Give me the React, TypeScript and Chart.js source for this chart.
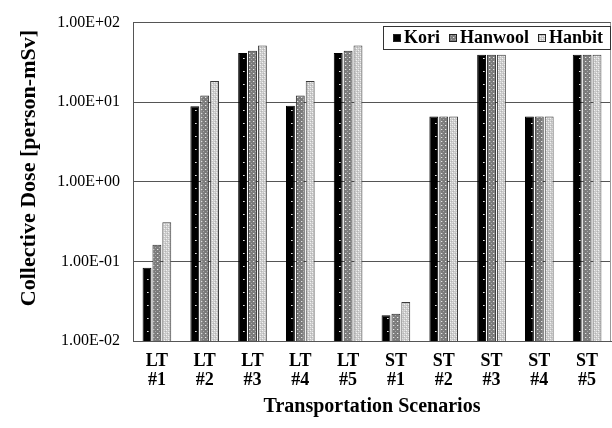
import React, { useEffect, useRef } from "react";
import { Chart, registerables } from "chart.js";

Chart.register(...registerables);

const CATEGORIES: string[][] = [
  ["LT", "#1"], ["LT", "#2"], ["LT", "#3"], ["LT", "#4"], ["LT", "#5"],
  ["ST", "#1"], ["ST", "#2"], ["ST", "#3"], ["ST", "#4"], ["ST", "#5"],
];
const SERIES_NAMES = ["Kori", "Hanwool", "Hanbit"];
const KORI = [0.083, 8.9, 41.5, 9.0, 41.5, 0.021, 6.6, 39.5, 6.6, 39.5];
const HANWOOL = [0.162, 12.1, 44.3, 12.1, 44.3, 0.022, 6.6, 39.5, 6.6, 39.5];
const HANBIT = [0.31, 18.4, 51.5, 18.4, 51.5, 0.031, 6.6, 39.5, 6.6, 39.5];
const Y_TICKS = [0.01, 0.1, 1, 10, 100];
const Y_TICK_LABELS = ["1.00E-02", "1.00E-01", "1.00E+00", "1.00E+01", "1.00E+02"];
const X_TITLE = "Transportation Scenarios";
const Y_TITLE = "Collective Dose [person-mSv]";

const FONT = '"Liberation Serif", "Times New Roman", serif';

function makePattern(w: number, h: number, bg: string, dots: [number, number, string][]) {
  const c = document.createElement("canvas");
  c.width = w;
  c.height = h;
  const g = c.getContext("2d")!;
  g.fillStyle = bg;
  g.fillRect(0, 0, w, h);
  for (const [x, y, col] of dots) {
    g.fillStyle = col;
    g.fillRect(x, y, 1, 1);
  }
  return g.createPattern(c, "repeat")!;
}

const boxLegend = {
  id: "boxLegend",
  afterDraw(chart: any) {
    const ctx = chart.ctx as CanvasRenderingContext2D;
    const area = chart.chartArea;
    ctx.save();
    ctx.font = `bold 18px ${FONT}`;
    const sw = 8, gapText = 3, gapItem = 9, padL = 10, padR = 7;
    const items = chart.data.datasets.map((ds: any) => ({
      label: ds.label,
      fill: ds.backgroundColor,
      w: ctx.measureText(ds.label).width,
    }));
    const contentW =
      items.reduce((s: number, it: any) => s + sw + gapText + it.w, 0) + gapItem * (items.length - 1);
    const boxW = Math.round(padL + contentW + padR);
    const boxH = 23;
    const right = Math.round(area.right - 1);
    const top = Math.round(area.top + 3);
    const left = right - boxW;
    ctx.fillStyle = "#fff";
    ctx.fillRect(left, top, boxW, boxH);
    ctx.strokeStyle = "#333";
    ctx.lineWidth = 1;
    ctx.strokeRect(left + 0.5, top + 0.5, boxW, boxH);
    let x = left + padL;
    const cy = top + boxH / 2;
    items.forEach((it: any) => {
      ctx.fillStyle = it.fill;
      ctx.fillRect(Math.round(x), Math.round(cy - 4), sw, sw);
      ctx.strokeStyle = "#222";
      ctx.strokeRect(Math.round(x) + 0.5, Math.round(cy - 4) + 0.5, sw - 1, sw - 1);
      x += sw + gapText;
      ctx.fillStyle = "#000";
      ctx.textBaseline = "middle";
      ctx.textAlign = "left";
      ctx.fillText(it.label, x, cy + 1);
      x += it.w + gapItem;
    });
    ctx.restore();
  },
};

const rightBorder = {
  id: "rightBorder",
  beforeDatasetsDraw(chart: any) {
    const ctx = chart.ctx as CanvasRenderingContext2D;
    const a = chart.chartArea;
    ctx.save();
    ctx.strokeStyle = "#999";
    ctx.lineWidth = 1;
    ctx.beginPath();
    const x = Math.round(a.right) - 0.5;
    ctx.moveTo(x, a.top);
    ctx.lineTo(x, a.bottom);
    ctx.stroke();
    ctx.restore();
  },
};

export default function App() {
  const ref = useRef<HTMLCanvasElement | null>(null);

  useEffect(() => {
    if (!ref.current) return;
    const koriPat = makePattern(12, 13, "#000000", [[3, 6, "#e8e8e8"], [4, 6, "#999999"]]);
    const hanwoolPat = makePattern(4, 4, "#7c7c7c", [[1, 1, "#e6e6e6"], [3, 3, "#a8a8a8"], [2, 1, "#9a9a9a"]]);
    const hanbitPat = makePattern(4, 4, "#c9c9c9", [
      [0, 0, "#f4f4f4"], [2, 2, "#f4f4f4"], [1, 3, "#b4b4b4"], [3, 1, "#b4b4b4"], [2, 0, "#e0e0e0"], [0, 2, "#e0e0e0"],
    ]);
    const fills = [koriPat, hanwoolPat, hanbitPat];
    const values = [KORI, HANWOOL, HANBIT];
    const borders = ["#000000", "#2a2a2a", "#3a3a3a"];

    const chart = new Chart(ref.current, {
      type: "bar",
      data: {
        labels: CATEGORIES,
        datasets: SERIES_NAMES.map((name, i) => ({
          label: name,
          data: values[i],
          backgroundColor: fills[i] as any,
          borderColor: borders[i],
          borderWidth: 1,
          categoryPercentage: 0.62,
          barPercentage: 0.9,
        })),
      },
      options: {
        responsive: false,
        animation: false,
        layout: { padding: { top: 16, right: 1, left: 0, bottom: 0 } },
        plugins: {
          legend: { display: false },
          tooltip: { enabled: false },
        },
        scales: {
          x: {
            grid: { display: false, drawTicks: false },
            border: { display: true, color: "#555" },
            ticks: {
              font: { family: FONT, size: 18, weight: "bold", lineHeight: 1.1 },
              color: "#000",
              padding: 10,
              maxRotation: 0,
              autoSkip: false,
            },
            title: {
              display: true,
              text: X_TITLE,
              font: { family: FONT, size: 20, weight: "bold" },
              color: "#000",
              padding: { top: 0, bottom: 9 },
            },
            afterFit(s: any) {
              s.height = 87;
            },
          },
          y: {
            type: "logarithmic",
            min: 0.01,
            max: 100,
            afterBuildTicks(s: any) {
              s.ticks = Y_TICKS.map((v) => ({ value: v }));
            },
            ticks: {
              callback: (v: any) => {
                const idx = Y_TICKS.findIndex((t) => Math.abs(Math.log10(t) - Math.log10(Number(v))) < 1e-6);
                return idx >= 0 ? Y_TICK_LABELS[idx] : "";
              },
              font: { family: FONT, size: 16 },
              color: "#000",
              padding: 13,
            },
            grid: { color: "#555", drawTicks: false, lineWidth: 1 },
            border: { display: true, color: "#555" },
            title: {
              display: true,
              text: "\u00A0\u00A0\u00A0\u00A0\u00A0" + Y_TITLE,
              font: { family: FONT, size: 22, weight: "bold" },
              color: "#000",
              padding: { top: 16, bottom: 0 },
            },
            afterFit(s: any) {
              s.width = 133;
            },
          },
        },
      } as any,
      plugins: [rightBorder, boxLegend],
    });
    return () => chart.destroy();
  }, []);

  return (
    <div style={{ position: "absolute", left: 0, top: 0, width: 612, height: 428, background: "#fff" }}>
      <canvas ref={ref} width={612} height={428} style={{ display: "block" }} />
    </div>
  );
}
